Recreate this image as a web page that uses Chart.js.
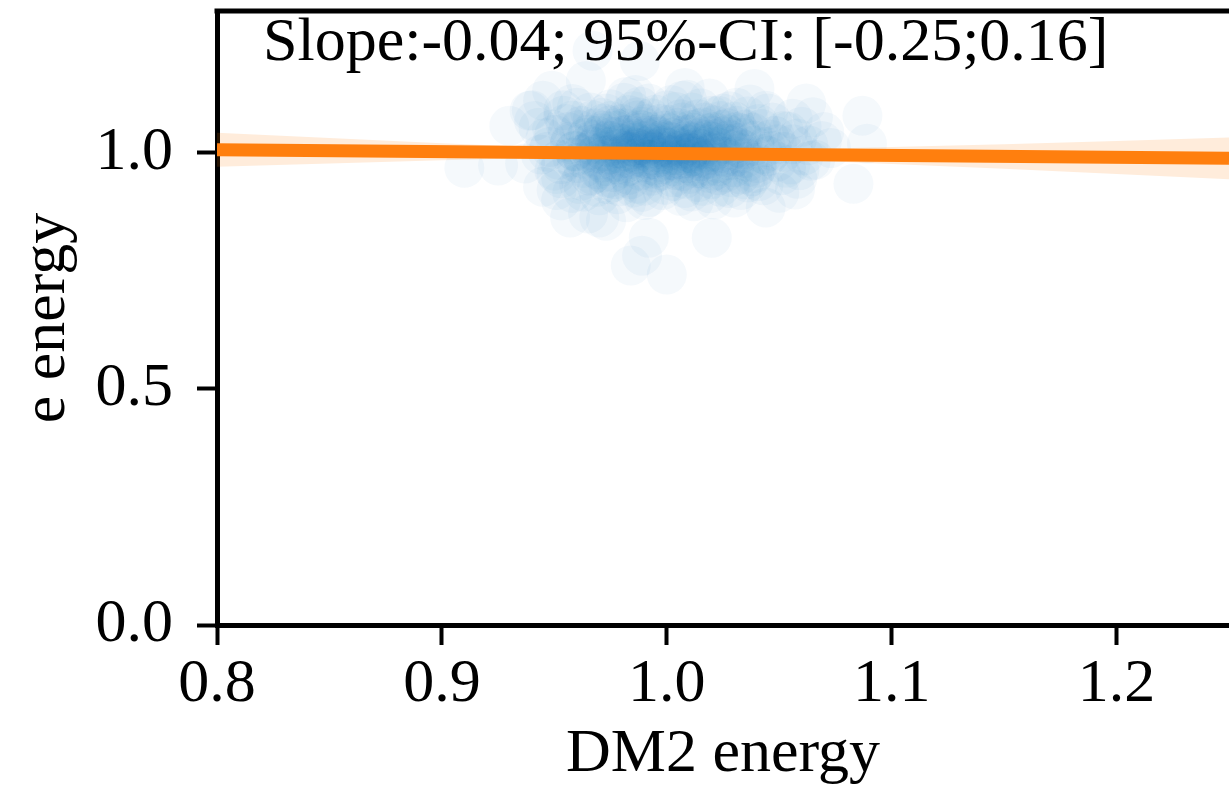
<!DOCTYPE html>
<html>
<head>
<meta charset="utf-8">
<script src="https://cdn.jsdelivr.net/npm/chart.js@4.4.1/dist/chart.umd.min.js"></script>
<style>
  html, body { margin: 0; padding: 0; background: #fff; }
  #wrap { width: 1229px; height: 796px; }
</style>
</head>
<body>
<div id="wrap"><canvas id="energy" width="1229" height="796"></canvas></div>
<script>
// sparse runs around the main cloud
const haloX = [0.910, 0.925, 0.930, 0.937, 0.964, 0.949, 0.957, 0.967, 0.988, 0.992,
               0.989, 0.984, 1.000, 1.020, 0.970, 1.087, 1.089, 1.083, 1.062, 1.039,
               1.008, 1.044, 1.064, 1.069, 0.939, 0.945, 0.953, 0.965, 0.973];
const haloY = [0.968, 0.973, 1.057, 0.977, 1.152, 1.131, 0.863, 1.216, 1.194, 0.820,
               0.782, 0.761, 0.742, 0.820, 0.863, 1.078, 1.019, 0.934, 1.104, 1.135,
               1.137, 0.884, 0.983, 1.025, 1.089, 1.110, 0.899, 0.871, 0.856];

// ring between the halo and the dense part
const ringX = [0.948, 0.952, 0.956, 0.950, 0.958, 0.946, 0.961, 0.954, 0.963, 0.959,
               1.052, 1.048, 1.055, 1.047, 1.058, 1.051, 1.061, 1.044, 1.056, 1.043,
               0.975, 0.988, 1.002, 1.015, 1.028, 0.981, 1.009, 1.036, 0.966, 0.995,
               0.978, 0.992, 1.006, 1.019, 1.033, 0.985, 1.011, 1.041, 0.969, 0.998,
               0.962, 0.967, 1.042, 1.038, 0.957, 1.045, 0.971, 1.025, 0.974, 1.024,
               0.944, 1.063, 0.949, 1.059, 0.953, 1.054, 0.960, 1.049, 0.965, 1.040,
               0.983, 1.004, 1.020, 0.990, 1.014, 0.977, 1.030, 0.972, 1.035, 0.962,
               0.941, 1.066, 0.951, 1.070, 0.958, 1.037, 0.986, 1.021, 0.982, 1.057];
const ringY = [1.012, 0.985, 1.044, 0.962, 1.068, 1.031, 0.934, 1.090, 0.918, 1.003,
               1.002, 1.036, 0.975, 1.064, 1.030, 0.952, 0.994, 1.089, 1.072, 0.931,
               1.092, 1.098, 1.101, 1.094, 1.088, 1.106, 1.112, 1.077, 1.085, 1.081,
               0.912, 0.906, 0.909, 0.914, 0.921, 0.926, 0.918, 0.940, 0.928, 0.921,
               1.057, 0.954, 1.050, 0.950, 1.019, 0.993, 1.074, 1.083, 0.933, 0.928,
               0.996, 1.016, 1.049, 0.963, 0.946, 1.045, 0.978, 1.018, 1.038, 0.978,
               1.080, 1.086, 1.078, 0.930, 0.938, 0.944, 1.066, 1.062, 0.943, 0.996,
               1.067, 0.985, 0.921, 1.044, 1.103, 1.102, 1.122, 0.901, 0.895, 0.922];

// dense runs near (1, 1)
const coreX = [0.985, 0.992, 1.004, 1.011, 0.978, 0.996, 1.018, 1.023, 0.981, 1.007,
               0.973, 1.029, 0.989, 1.014, 0.968, 1.035, 0.999, 1.002, 0.994, 1.016,
               0.977, 0.986, 1.009, 1.026, 1.021, 0.971, 0.963, 1.039, 1.003, 0.991,
               1.012, 0.983, 1.031, 0.975, 1.043, 0.959, 1.006, 0.997, 0.988, 1.019,
               0.979, 1.001, 1.025, 0.969, 1.037, 0.993, 1.013, 0.982, 1.008, 0.974,
               1.028, 0.995, 1.017, 0.987, 1.046, 0.957, 0.966, 1.033, 1.004, 0.990,
               1.022, 0.980, 1.010, 0.972, 0.998, 1.015, 0.984, 1.027, 0.961, 1.041,
               0.976, 1.020, 0.999, 1.011, 0.985, 0.953, 1.049, 1.034, 0.967, 1.003,
               0.991, 1.024, 0.978, 1.006, 0.964, 1.038, 0.994, 1.012, 0.986, 1.018,
               0.970, 1.030, 1.001, 0.981, 0.955, 1.044, 0.962, 1.036, 1.008, 0.989,
               1.052, 0.950, 1.000, 1.023, 0.973, 0.996, 1.009, 0.983, 1.014, 0.977,
               1.026, 0.993, 1.005, 0.988, 1.019, 0.969, 1.032, 0.958, 1.047, 0.998,
               1.011, 0.984, 1.021, 0.974, 1.039, 0.965, 1.003, 1.016, 0.979, 1.028,
               0.992, 1.031, 0.960, 1.056, 0.947, 1.053, 0.951, 1.007, 0.982, 1.019,
               1.045, 0.954, 1.060, 0.943, 1.058, 0.945, 0.990, 1.030, 0.970, 1.012,
               1.050, 1.065, 0.958, 0.940, 1.073, 1.000, 0.996, 1.013, 0.987, 1.005,
               0.990, 1.020, 0.976, 1.033, 0.968];
const coreY = [1.002, 0.985, 1.013, 0.992, 1.021, 1.034, 1.027, 0.978, 0.968, 0.961,
               0.994, 1.006, 1.047, 1.051, 1.012, 0.989, 0.997, 1.022, 0.973, 1.008,
               0.981, 1.029, 1.038, 1.019, 0.962, 1.041, 0.987, 1.015, 0.948, 1.061,
               0.971, 0.953, 1.044, 1.058, 0.997, 1.004, 1.071, 1.012, 0.991, 0.996,
               1.009, 0.984, 1.035, 0.965, 0.971, 1.018, 1.024, 1.037, 0.999, 1.026,
               0.984, 0.958, 1.064, 1.075, 1.028, 1.023, 0.951, 0.954, 1.046, 1.005,
               1.012, 0.994, 1.016, 1.003, 1.027, 0.983, 1.014, 1.052, 1.048, 1.061,
               0.938, 0.944, 0.932, 1.085, 1.088, 0.976, 0.981, 1.031, 1.069, 1.005,
               1.036, 1.000, 0.975, 0.977, 1.031, 1.043, 0.995, 1.003, 1.021, 1.041,
               0.985, 0.969, 1.059, 1.052, 1.061, 1.012, 0.941, 0.937, 0.925, 0.917,
               1.046, 1.038, 1.090, 1.078, 1.083, 0.969, 0.988, 1.001, 1.030, 1.047,
               0.991, 1.044, 1.029, 0.962, 0.957, 0.998, 1.021, 0.990, 1.004, 1.015,
               0.999, 0.987, 1.058, 1.012, 0.957, 1.017, 0.940, 0.930, 0.929, 0.925,
               1.104, 1.095, 1.095, 1.018, 1.002, 0.968, 0.955, 1.110, 1.118, 1.115,
               1.083, 1.078, 1.055, 1.053, 0.945, 0.928, 0.900, 0.905, 0.910, 0.897,
               0.915, 1.075, 0.915, 1.090, 1.010, 1.003, 0.990, 1.011, 1.009, 0.994,
               1.025, 1.023, 1.034, 0.999, 1.052];

// innermost runs
const centreX = [0.982, 0.994, 1.006, 1.017, 0.975, 1.028, 0.989, 1.001, 1.013, 0.969,
                 1.024, 0.986, 0.998, 1.009, 0.979, 1.032, 0.992, 1.015, 0.973, 1.005,
                 0.984, 1.021, 0.996, 1.011, 0.977, 1.036, 0.988, 1.003, 1.026, 0.967,
                 0.991, 1.008, 0.981, 1.019, 0.995, 0.972, 1.031, 1.002, 0.985, 1.014,
                 0.976, 1.023, 0.997, 1.007, 0.988, 1.034, 0.966, 1.012, 0.993, 1.027,
                 0.980, 1.004, 0.986, 1.018, 0.999, 0.971, 1.039, 1.010, 0.983, 1.021,
                 0.990, 1.006, 0.978, 1.016, 0.994, 1.029, 0.969, 1.002, 0.987, 1.024,
                 0.974, 1.013, 0.996, 1.009, 0.982, 1.035, 0.991, 1.019, 0.963, 1.004,
                 0.985, 1.000, 1.022, 0.977, 1.011, 0.994, 1.031, 0.968, 1.007, 0.989,
                 1.016, 0.980, 1.003, 1.025, 0.992, 1.014, 0.975, 1.040, 0.997, 1.008,
                 0.983, 1.020, 0.995, 1.012, 0.971, 1.029, 0.988, 1.005, 0.979, 1.018,
                 0.998, 1.033, 0.965, 1.010, 0.987, 1.023, 0.993, 1.001, 0.976, 1.015];
const centreY = [1.004, 1.021, 0.986, 1.013, 0.996, 1.027, 0.979, 1.041, 0.967, 1.019,
                 0.993, 1.011, 0.962, 1.026, 1.035, 1.011, 1.001, 0.981, 0.972, 1.053,
                 0.944, 1.044, 1.008, 1.007, 1.016, 0.981, 1.049, 0.971, 0.958, 0.992,
                 1.013, 1.019, 0.989, 1.001, 1.038, 1.047, 1.057, 0.995, 1.026, 0.989,
                 0.959, 0.971, 0.981, 1.064, 1.016, 1.007, 1.006, 1.042, 0.951, 1.039,
                 1.061, 1.017, 0.997, 1.018, 1.047, 0.979, 1.026, 0.955, 1.039, 1.003,
                 0.988, 1.004, 1.009, 1.054, 0.966, 0.948, 1.036, 1.032, 1.068, 1.067,
                 0.947, 0.993, 1.024, 0.978, 0.978, 1.049, 1.031, 0.972, 0.968, 0.963,
                 1.007, 1.011, 1.029, 1.052, 1.048, 0.986, 0.992, 1.028, 1.009, 1.055,
                 0.966, 1.019, 0.984, 1.048, 1.009, 1.071, 1.067, 0.968, 1.061, 0.945,
                 0.972, 1.036, 1.002, 1.021, 0.958, 1.016, 1.042, 1.036, 0.999, 0.987,
                 0.976, 1.041, 1.001, 1.001, 0.934, 0.952, 1.073, 1.024, 1.025, 1.033];

// regression fit and its 95% band
const fitX = [0.80, 1.25];
const fitY = [1.006, 0.988];
const bandX = [0.80, 0.85, 0.90, 0.95, 1.00, 1.05, 1.10, 1.15, 1.20, 1.25];
const bandUpper = [1.042, 1.031, 1.020, 1.010, 1.004, 1.006, 1.012, 1.018, 1.025, 1.032];
const bandLower = [0.970, 0.977, 0.984, 0.990, 0.992, 0.986, 0.976, 0.966, 0.955, 0.944];

const xTicks = [0.8, 0.9, 1.0, 1.1, 1.2];
const yTicks = [0.0, 0.5, 1.0];
const slopeLabel = 'Slope:-0.04; 95%-CI: [-0.25;0.16]';

const SERIF = '"Liberation Serif", "DejaVu Serif", serif';
const font = { family: SERIF, size: 62 };

const zip = (xs, ys) => xs.map((x, i) => ({ x: x, y: ys[i] }));
const runs = zip(haloX, haloY).concat(zip(ringX, ringY), zip(coreX, coreY), zip(centreX, centreY));

// top spine + slope text
const frame = {
    id: 'frame',
    afterDraw(chart) {
        const { ctx, chartArea } = chart;
        ctx.save();
        ctx.strokeStyle = '#000';
        ctx.lineWidth = 5;
        ctx.beginPath();
        ctx.moveTo(chartArea.left - 2.5, chartArea.top);
        ctx.lineTo(chartArea.right, chartArea.top);
        ctx.stroke();
        ctx.fillStyle = '#000';
        ctx.font = '62px ' + SERIF;
        ctx.textBaseline = 'alphabetic';
        ctx.textAlign = 'left';
        ctx.fillText(slopeLabel, chartArea.left + 46, chartArea.top + 49);
        ctx.restore();
    }
};

// keep the plot box where it belongs, whatever the label sizes
const noPad = s => { s.paddingTop = 0; s.paddingBottom = 0; s.paddingLeft = 0; s.paddingRight = 0; };

new Chart(document.getElementById('energy'), {
    type: 'scatter',
    data: {
        datasets: [{
            data: runs,
            backgroundColor: 'rgba(31,119,180,0.045)',
            pointRadius: 20,
            pointBorderWidth: 0,
            borderWidth: 0,
            pointHoverRadius: 20,
            order: 3
        }, {
            type: 'line',
            data: zip(bandX, bandUpper),
            borderWidth: 0,
            pointRadius: 0,
            fill: '+1',
            backgroundColor: 'rgba(255,127,14,0.15)',
            tension: 0,
            clip: 0,
            order: 2
        }, {
            type: 'line',
            data: zip(bandX, bandLower),
            borderWidth: 0,
            pointRadius: 0,
            fill: false,
            tension: 0,
            clip: 0,
            order: 2
        }, {
            type: 'line',
            data: zip(fitX, fitY),
            borderColor: '#ff7f0e',
            borderWidth: 13,
            borderCapStyle: 'butt',
            pointRadius: 0,
            fill: false,
            clip: 0,
            order: 1
        }]
    },
    options: {
        responsive: false,
        animation: false,
        devicePixelRatio: 1,
        layout: { autoPadding: false, padding: { top: 11, left: 0, right: 0, bottom: 0 } },
        plugins: { legend: { display: false }, tooltip: { enabled: false } },
        scales: {
            x: {
                type: 'linear',
                min: 0.8,
                max: 1.25,
                afterBuildTicks: s => { s.ticks = xTicks.map(v => ({ value: v })); },
                afterFit: s => { s.height = 171; noPad(s); },
                ticks: { font: font, color: '#000', padding: 3, maxRotation: 0, autoSkip: false,
                         callback: v => v.toFixed(1) },
                grid: { drawOnChartArea: false, color: '#000', tickColor: '#000', tickLength: 20, tickWidth: 4 },
                border: { display: true, color: '#000', width: 5 },
                title: { display: true, text: 'DM2 energy', font: font, color: '#000',
                         padding: { top: 0, bottom: 4 } }
            },
            y: {
                type: 'linear',
                min: 0,
                max: 1.3,
                afterBuildTicks: s => { s.ticks = yTicks.map(v => ({ value: v })); },
                afterFit: s => { s.width = 217; noPad(s); },
                ticks: { font: font, color: '#000', padding: 24, autoSkip: false,
                         callback: v => v.toFixed(1) },
                grid: { drawOnChartArea: false, color: '#000', tickColor: '#000', tickLength: 20, tickWidth: 4 },
                border: { display: true, color: '#000', width: 5 },
                title: { display: true, text: 'e energy', font: font, color: '#000',
                         padding: { top: 11, bottom: 0 } }
            }
        }
    },
    plugins: [frame]
});
</script>
</body>
</html>
